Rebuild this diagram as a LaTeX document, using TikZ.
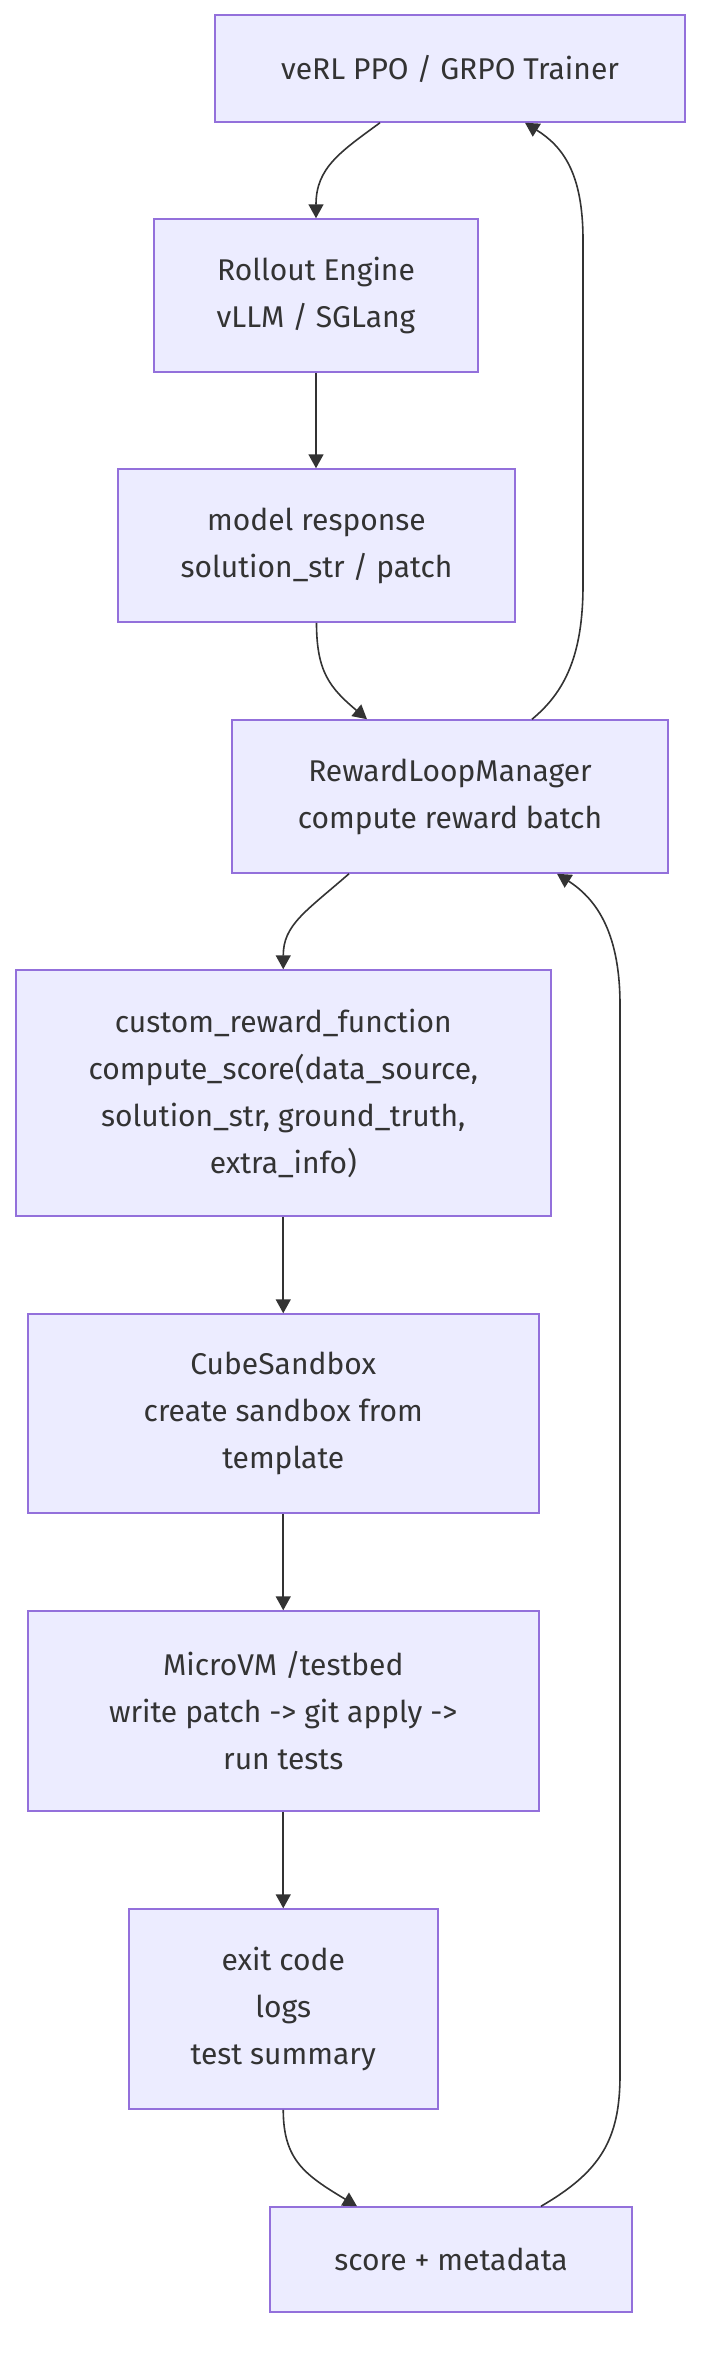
\documentclass[tikz,border=0pt]{standalone}
\usepackage{fontspec}
\setmainfont{Fira Sans}
\usetikzlibrary{arrows.meta}
\definecolor{boxfill}{HTML}{ECECFF}
\definecolor{boxline}{HTML}{9370DB}
\definecolor{ink}{HTML}{333333}

\begin{document}
\begin{tikzpicture}[x=1pt, y=-1pt, >={Triangle[length=14pt,width=15pt]},
    box/.style={draw=boxline, fill=boxfill, line width=1.5pt, align=center, text=ink,
        inner sep=0pt, font=\fontsize{30}{47}\selectfont},
    flow/.style={->, draw=ink, line width=1.6pt}]
    \useasboundingbox (0,0) rectangle (716,2380);

    % Nodes
    \node[box, minimum width=470pt, minimum height=107pt] (trainer) at (450,68.5) {veRL PPO / GRPO Trainer};
    \node[box, minimum width=324pt, minimum height=153pt] (rollout) at (316,295.5) {Rollout Engine\\vLLM / SGLang};
    \node[box, minimum width=397pt, minimum height=153pt] (response) at (316.5,545.5) {model response\\solution\_str / patch};
    \node[box, minimum width=436pt, minimum height=153pt] (manager) at (450,796.5) {RewardLoopManager\\compute reward batch};
    \node[box, minimum width=535pt, minimum height=246pt] (reward) at (283.25,1093) {custom\_reward\_function\\compute\_score(data\_source,\\solution\_str, ground\_truth,\\extra\_info)};
    \node[box, minimum width=511pt, minimum height=199pt] (sandbox) at (283.25,1413.5) {CubeSandbox\\create sandbox from\\template};
    \node[box, minimum width=511pt, minimum height=200pt] (microvm) at (283.25,1711) {MicroVM /testbed\\write patch -> git apply ->\\run tests};
    \node[box, minimum width=309pt, minimum height=200pt] (result) at (283.25,2009) {exit code\\logs\\test summary};
    \node[box, minimum width=362pt, minimum height=105pt] (score) at (451,2259.5) {score + metadata};

    % Turning points of the two return loops
    \coordinate (upA) at (583,585);
    \coordinate (upB) at (583,240);
    \coordinate (downA) at (620,2075);
    \coordinate (downB) at (620,1005);

    % Forward flow
    \draw[flow] ([xshift=-70pt]trainer.south) .. controls (340,152) and (316,168) .. (rollout.north);
    \draw[flow] (rollout.south) -- (rollout.south |- response.north);
    \draw[flow] (response.south) .. controls (316.5,672) and (330,688) .. ([xshift=-83pt]manager.north);
    \draw[flow] ([xshift=-101pt]manager.south) .. controls (305,912) and (283.25,925) .. (reward.north);
    \draw[flow] (reward.south) -- (sandbox.north);
    \draw[flow] (sandbox.south) -- (microvm.north);
    \draw[flow] (microvm.south) -- (result.north);
    \draw[flow] (result.south) .. controls (283.25,2160) and (305,2175) .. ([xshift=-94pt]score.north);

    % Return loops
    \draw[flow] ([xshift=90pt]score.north) .. controls (600,2172) and (620,2140) .. (downA) -- (downB)
        .. controls (620,935) and (598,900) .. ([xshift=107pt]manager.south);
    \draw[flow] ([xshift=82pt]manager.north) .. controls (565,692) and (583,655) .. (upA) -- (upB)
        .. controls (583,172) and (562,146) .. ([xshift=75pt]trainer.south);
\end{tikzpicture}
\end{document}
